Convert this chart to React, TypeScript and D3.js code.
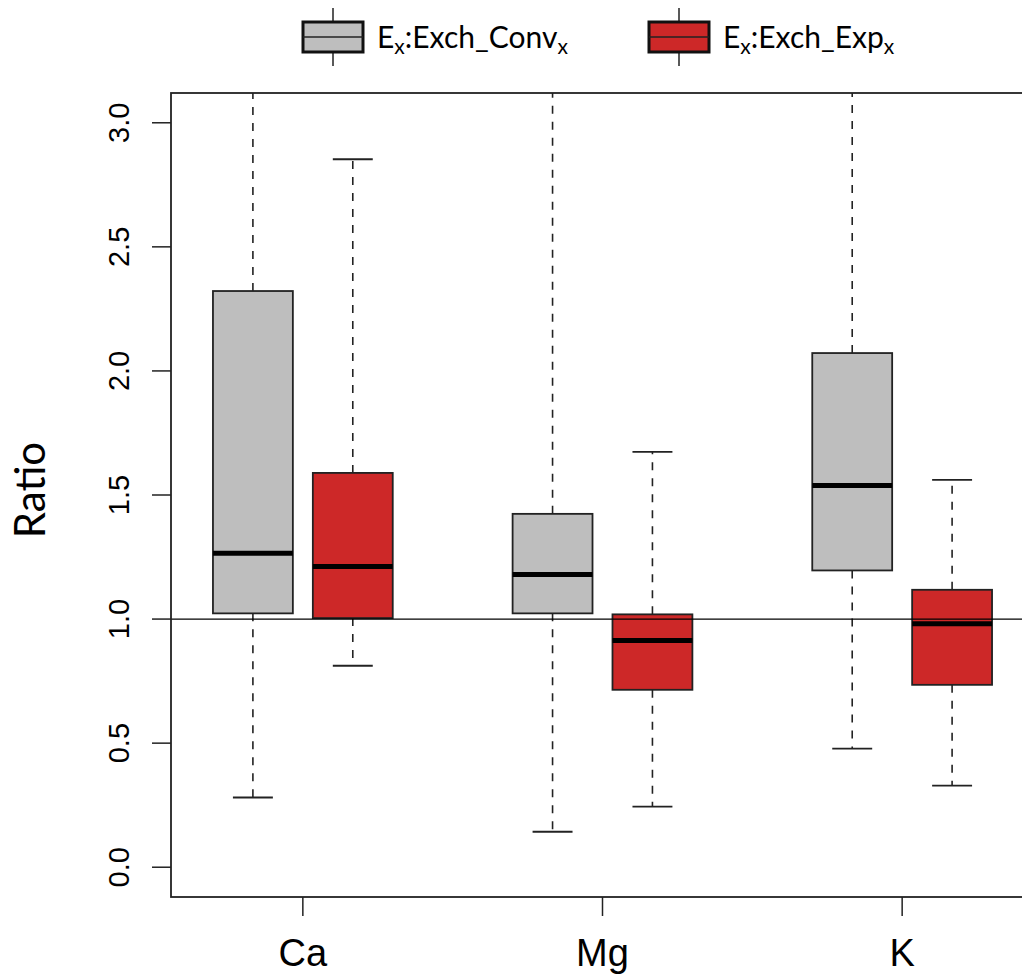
import React from "react";
import * as d3 from "d3";

const categories = ["Ca", "Mg", "K"];
const groupTicks = [1.5, 4.5, 7.5];
const convPos = [1, 4, 7];
const expPos = [2, 5, 8];

// Ex:Exch_Conv (gray)
const convLower = [0.281, 0.143, 0.478];
const convQ1 = [1.023, 1.023, 1.196];
const convMedian = [1.265, 1.18, 1.538];
const convQ3 = [2.322, 1.424, 2.072];
const convUpper = [3.6, 3.6, 3.6];

// Ex:Exch_Exp (red)
const expLower = [0.812, 0.244, 0.329];
const expQ1 = [1.004, 0.715, 0.735];
const expMedian = [1.212, 0.914, 0.981];
const expQ3 = [1.589, 1.019, 1.118];
const expUpper = [2.853, 1.674, 1.561];

const yTicks = [0, 0.5, 1, 1.5, 2, 2.5, 3];
const yTickLabels = ["0.0", "0.5", "1.0", "1.5", "2.0", "2.5", "3.0"];

const GRAY = "#BEBEBE";
const RED = "#CD2828";

export default function App() {
  const W = 1022, H = 974;
  const left = 171, top = 93, bottom = 897, rightEdge = 1034;
  const x = d3.scaleLinear().domain([0.18, 8.82]).range([left, rightEdge]);
  const y = d3.scaleLinear().domain([-0.12, 3.12]).range([bottom, top]);
  const unit = x(1) - x(0);
  const boxW = 0.8 * unit;
  const capW = 0.4 * unit;

  const mkBoxes = (pos: number[], lo: number[], q1: number[], med: number[], q3: number[], hi: number[], fill: string) =>
    pos.map((p, i) => {
      const cx = x(p);
      return (
        <g key={`${fill}-${i}`}>
          <line x1={cx} x2={cx} y1={y(q3[i])} y2={y(hi[i])} stroke="#222" strokeWidth={1.6} strokeDasharray="8 8" />
          <line x1={cx} x2={cx} y1={y(q1[i])} y2={y(lo[i])} stroke="#222" strokeWidth={1.6} strokeDasharray="8 8" />
          <line x1={cx - capW / 2} x2={cx + capW / 2} y1={y(hi[i])} y2={y(hi[i])} stroke="#222" strokeWidth={1.8} />
          <line x1={cx - capW / 2} x2={cx + capW / 2} y1={y(lo[i])} y2={y(lo[i])} stroke="#222" strokeWidth={1.8} />
          <rect x={cx - boxW / 2} y={y(q3[i])} width={boxW} height={y(q1[i]) - y(q3[i])} fill={fill} stroke="#222" strokeWidth={1.8} />
          <line x1={cx - boxW / 2} x2={cx + boxW / 2} y1={y(med[i])} y2={y(med[i])} stroke="#000" strokeWidth={5} />
        </g>
      );
    });

  const legendItems = [
    { cx: 333, fill: GRAY, label: "Conv", tx: 377 },
    { cx: 679, fill: RED, label: "Exp", tx: 723 },
  ];

  return (
    <svg width={W} height={H} style={{ position: "absolute", left: 0, top: 0, background: "#fff" }}>
      <defs>
        <clipPath id="plotclip">
          <rect x={left} y={top} width={rightEdge - left} height={bottom - top} />
        </clipPath>
      </defs>
      {/* legend */}
      {legendItems.map((it) => (
        <g key={it.label}>
          <line x1={it.cx} x2={it.cx} y1={8} y2={66} stroke="#222" strokeWidth={1.5} />
          <rect x={it.cx - 30} y={22} width={60} height={30} fill={it.fill} stroke="#111" strokeWidth={3} />
          <line x1={it.cx - 30} x2={it.cx + 30} y1={37} y2={37} stroke="#222" strokeWidth={1.5} />
          <text x={it.tx} y={48} fontFamily="Lato, 'Open Sans', sans-serif" fontSize={30} fill="#000">
            E<tspan fontSize={21} dy={6}>x</tspan>
            <tspan dy={-6}>:Exch_{it.label}</tspan>
            <tspan fontSize={21} dy={6}>x</tspan>
          </text>
        </g>
      ))}

      <g clipPath="url(#plotclip)">
        {mkBoxes(convPos, convLower, convQ1, convMedian, convQ3, convUpper, GRAY)}
        {mkBoxes(expPos, expLower, expQ1, expMedian, expQ3, expUpper, RED)}
        <line x1={left} x2={rightEdge} y1={y(1)} y2={y(1)} stroke="#000" strokeWidth={1.3} />
      </g>

      {/* frame */}
      <rect x={left} y={top} width={rightEdge - left} height={bottom - top} fill="none" stroke="#222" strokeWidth={1.8} />

      {/* y axis */}
      {yTicks.map((v, i) => (
        <g key={v}>
          <line x1={left - 19} x2={left} y1={y(v)} y2={y(v)} stroke="#222" strokeWidth={1.5} />
          <text transform={`translate(129,${y(v)}) rotate(-90)`} textAnchor="middle" fontFamily="'Liberation Sans', Arial, sans-serif" fontSize={29} fill="#000">
            {yTickLabels[i]}
          </text>
        </g>
      ))}

      {/* x axis */}
      {groupTicks.map((p, i) => (
        <g key={p}>
          <line x1={x(p)} x2={x(p)} y1={bottom} y2={bottom + 19} stroke="#222" strokeWidth={1.5} />
          <text x={x(p)} y={966} textAnchor="middle" fontFamily="'Liberation Sans', Arial, sans-serif" fontSize={38} fill="#000">
            {categories[i]}
          </text>
        </g>
      ))}

      <text transform={`translate(45,490) rotate(-90)`} textAnchor="middle" fontFamily="Lato, 'Open Sans', sans-serif" fontSize={42} fill="#000">
        Ratio
      </text>
    </svg>
  );
}
